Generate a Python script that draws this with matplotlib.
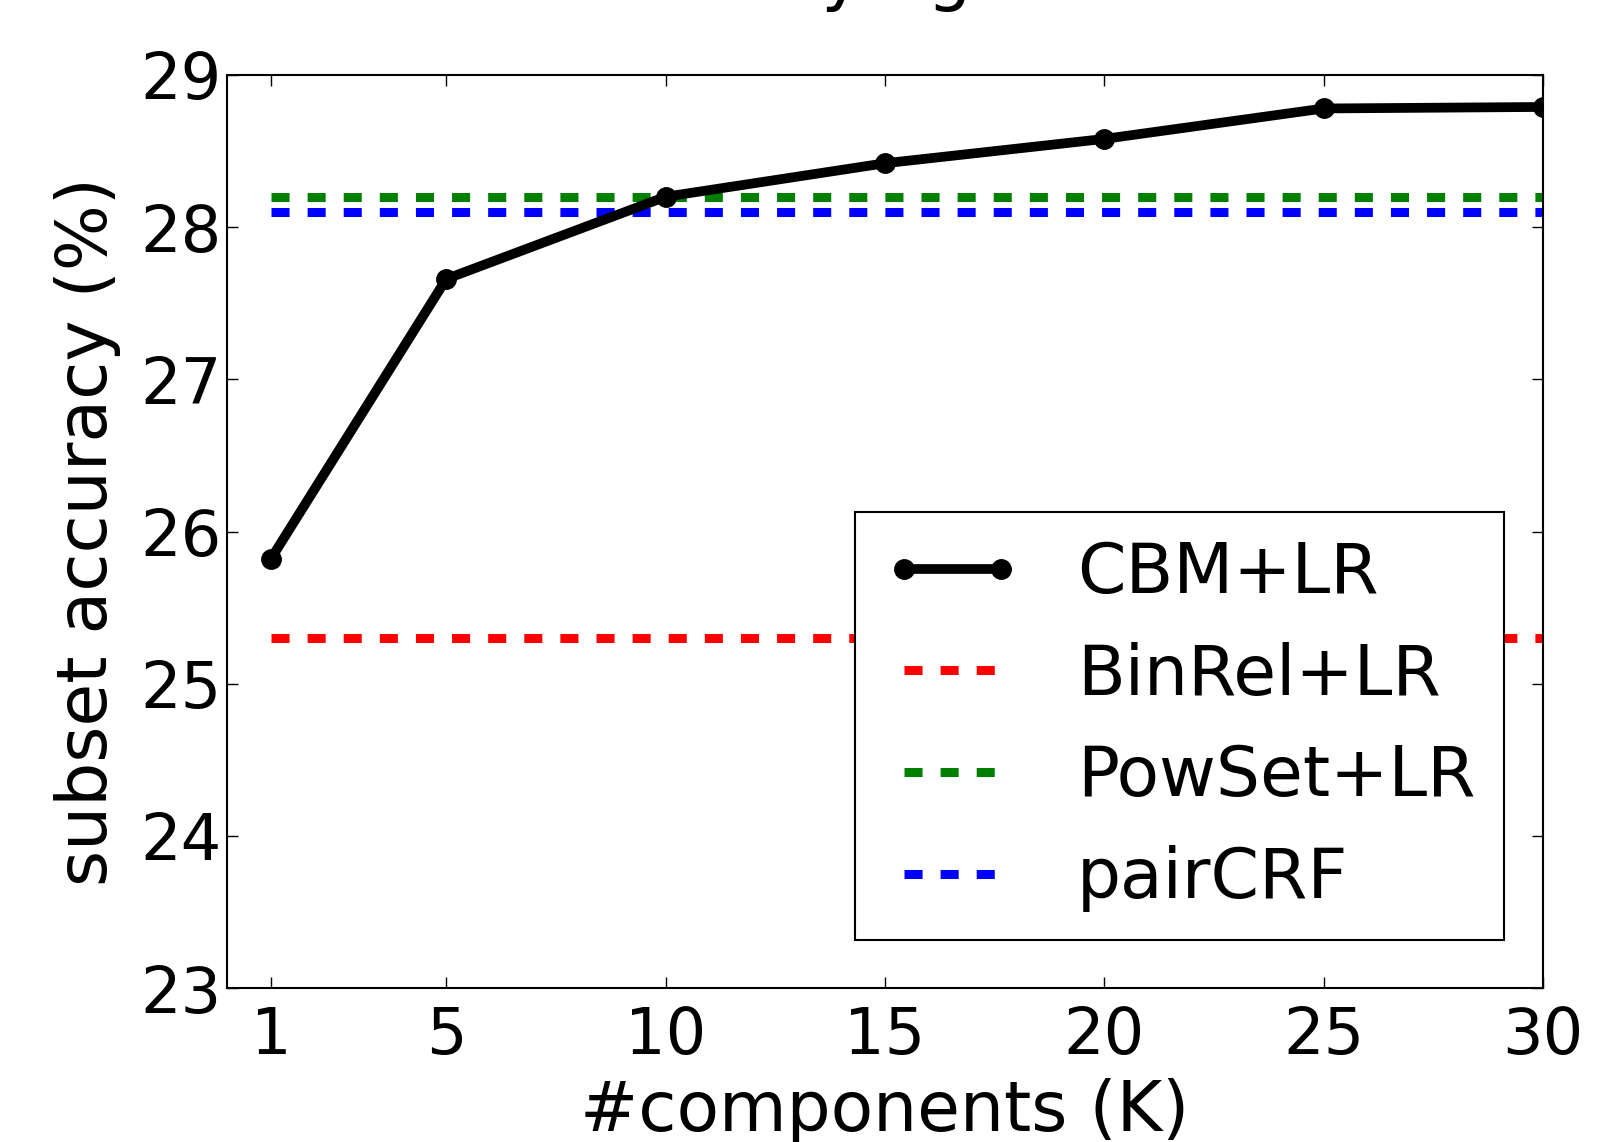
import matplotlib
matplotlib.use('Agg')
import matplotlib.pyplot as plt

# subset accuracy (%) vs number of mixture components K
components = [1, 5, 10, 15, 20, 25, 30]
cbm_lr = [25.82, 27.66, 28.20, 28.42, 28.58, 28.78, 28.79]

# baselines (constant across K)
binrel_lr = 25.3
powset_lr = 28.2
pair_crf = 28.1

x_ticks = [1, 5, 10, 15, 20, 25, 30]
y_ticks = [23, 24, 25, 26, 27, 28, 29]

plt.rcParams['font.family'] = ['DejaVu Sans']

fig = plt.figure(figsize=(16.06, 11.42), dpi=100)
ax = fig.add_axes([227 / 1606, 1 - 988 / 1142, 1316 / 1606, 913 / 1142])

dash = (0, (2, 2))
ax.plot(components, cbm_lr, color='k', linewidth=7, marker='o',
        markersize=14, label='CBM+LR', zorder=5)
ax.plot(components, [binrel_lr] * len(components), color='#ff0000',
        linewidth=6.5, linestyle=dash, label='BinRel+LR')
ax.plot(components, [powset_lr] * len(components), color='#008000',
        linewidth=6.5, linestyle=dash, label='PowSet+LR')
ax.plot(components, [pair_crf] * len(components), color='#0000ff',
        linewidth=6.5, linestyle=dash, label='pairCRF')

ax.set_xlim(0, 30)
ax.set_ylim(23, 29)
ax.set_xticks(x_ticks)
ax.set_yticks(y_ticks)
ax.tick_params(direction='in', length=8, width=1, top=True, right=True,
               labelsize=46)
ax.tick_params(axis='x', pad=12)
ax.tick_params(axis='y', pad=4)
for sp in ax.spines.values():
    sp.set_linewidth(1.5)

ax.set_xlabel('#components (K)', fontsize=50, labelpad=8)
ax.set_ylabel('subset accuracy (%)', fontsize=50, labelpad=14)

# classic-style legend box
leg = ax.legend(loc='lower right', bbox_to_anchor=(0.970, 0.0526),
                borderaxespad=0, fontsize=50, numpoints=2, fancybox=False,
                framealpha=1, edgecolor='k', handlelength=2.0,
                handletextpad=0.8, labelspacing=0.5, borderpad=0.4)
leg.get_frame().set_linewidth(1.5)

# title sits above the visible area, only its descenders show
fig.text(288 / 1606, 1.002, 'Subset accuracy against mixture components',
         fontsize=50, va='baseline', ha='left')

fig.savefig('out.png', dpi=100)
